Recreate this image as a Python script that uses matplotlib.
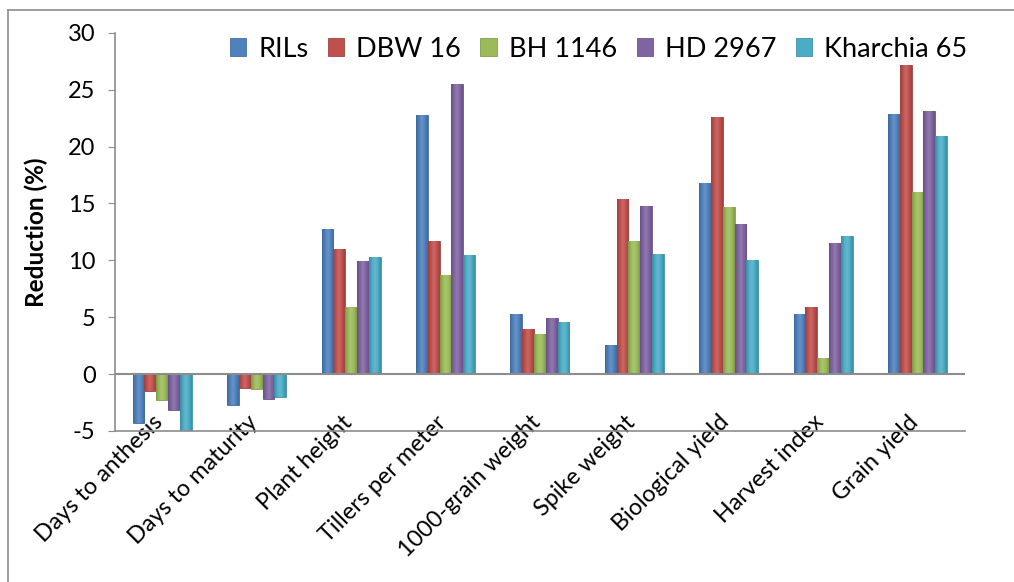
import matplotlib.pyplot as plt
import matplotlib.transforms as mtransforms
import numpy as np
from matplotlib.colors import LinearSegmentedColormap, to_rgb
from matplotlib.lines import Line2D

plt.rcParams['font.family'] = ['Lato', 'DejaVu Sans']
plt.rcParams['axes.unicode_minus'] = False

categories = ['Days to anthesis', 'Days to maturity', 'Plant height', 'Tillers per meter',
              '1000-grain weight', 'Spike weight', 'Biological yield', 'Harvest index', 'Grain yield']
series = ['RILs', 'DBW 16', 'BH 1146', 'HD 2967', 'Kharchia 65']
rils = [-4.3, -2.7, 12.8, 22.8, 5.3, 2.6, 16.8, 5.3, 22.9]
dbw16 = [-1.5, -1.2, 11.0, 11.7, 4.0, 15.4, 22.6, 5.9, 27.2]
bh1146 = [-2.3, -1.35, 5.9, 8.7, 3.5, 11.7, 14.7, 1.4, 16.0]
hd2967 = [-3.2, -2.2, 9.9, 25.5, 4.9, 14.8, 13.2, 11.5, 23.1]
kharchia65 = [-5.0, -2.0, 10.3, 10.5, 4.6, 10.6, 10.0, 12.1, 20.9]
values = [rils, dbw16, bh1146, hd2967, kharchia65]
colors = ['#4F81BD', '#C0504D', '#9BBB59', '#8064A2', '#4BACC6']

fig = plt.figure(figsize=(10.14, 5.82), dpi=100)
ax = fig.add_axes([0.1134, 0.2595, 0.838, 0.684])

x = np.arange(len(categories))
width = 0.125


def shade(c, f):
    r = np.array(to_rgb(c))
    if f < 1:
        return tuple(r * f)
    return tuple(r + (1 - r) * (f - 1))


grad = np.linspace(0, 1, 64).reshape(1, -1)
for i, (name, vals, col) in enumerate(zip(series, values, colors)):
    bars = ax.bar(x + (i - 2) * width, vals, width, color=col, label=name,
                  edgecolor=shade(col, 0.85), linewidth=0.6, zorder=2)
    # horizontal gradient like the old spreadsheet bars
    cmap = LinearSegmentedColormap.from_list(
        'g' + name, [shade(col, 0.8), shade(col, 1.0), shade(col, 1.15), shade(col, 1.0), shade(col, 0.82)])
    for b in bars:
        x0, y0 = b.get_x(), b.get_y()
        w, h = b.get_width(), b.get_height()
        im = ax.imshow(grad, cmap=cmap, aspect='auto', extent=(x0, x0 + w, y0, y0 + h),
                       interpolation='bicubic', zorder=2.5)
        im.set_clip_path(b)

ax.set_xlim(-0.5, len(categories) - 0.5)
ax.set_ylim(-5, 30)
ax.set_yticks(range(-5, 31, 5))
ax.axhline(0, color='#8c8c8c', linewidth=1.5, zorder=3)

for s in ['top', 'right']:
    ax.spines[s].set_visible(False)
for s in ['left', 'bottom']:
    ax.spines[s].set_color('#8c8c8c')
    ax.spines[s].set_linewidth(1.2)

ax.tick_params(axis='y', length=5, color='#8c8c8c', labelsize=17, pad=9)
ax.tick_params(axis='x', length=0, labelsize=16.8, pad=-14)
ax.set_xticks(x)
ax.set_xticklabels(categories, rotation=45, ha='right', va='top', rotation_mode='anchor')
shift = mtransforms.ScaledTranslation(-10 / 100, 0, fig.dpi_scale_trans)
for lab in ax.get_xticklabels():
    lab.set_transform(lab.get_transform() + shift)
    lab.set_zorder(4)

ax.set_ylabel('Reduction (%)', fontsize=17.5, fontweight='bold', labelpad=14)

ax.legend(loc='upper right', bbox_to_anchor=(1.032, 1.052), ncol=5, frameon=False, fontsize=19.5,
          handlelength=0.6, handleheight=0.6, handletextpad=0.45, columnspacing=0.72)

# outer chart border (left and top edges visible)
fig.add_artist(Line2D([8 / 1014, 8 / 1014], [0, 1 - 10 / 582], color='#8c8c8c', linewidth=1.2))
fig.add_artist(Line2D([8 / 1014, 1], [1 - 10 / 582, 1 - 10 / 582], color='#8c8c8c', linewidth=1.2))

fig.savefig('out.png', dpi=100)
